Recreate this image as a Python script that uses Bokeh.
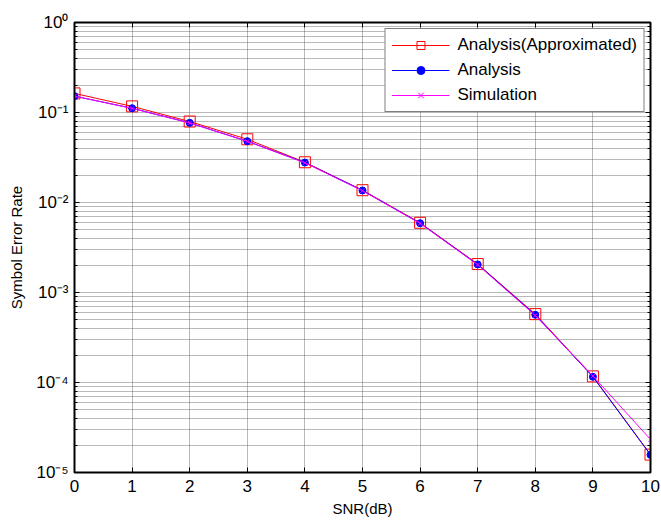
from bokeh.plotting import figure
from bokeh.models import (FixedTicker, LogAxis, LinearAxis, CustomJSTickFormatter,
                          Legend, LegendItem, Range1d, CustomLabelingPolicy)
from bokeh.embed import file_html
from bokeh.resources import INLINE

snr_db = [0, 1, 2, 3, 4, 5, 6, 7, 8, 9, 10]
ser_approx = [0.163, 0.117, 0.0794, 0.0504, 0.0280, 0.0137, 0.00595, 0.00207, 0.000575, 0.000117, 1.58e-5]
ser_analysis = [0.152, 0.1116, 0.0768, 0.0480, 0.0278, 0.0136, 0.00589, 0.00205, 0.000565, 0.0001157, 1.57e-5]
ser_sim = [0.152, 0.1110, 0.0765, 0.0478, 0.0276, 0.0135, 0.00586, 0.00203, 0.000555, 0.000118, 2.33e-5]

y_major = [1e-5, 1e-4, 1e-3, 1e-2, 1e-1, 1]
y_minor = [m * 10.0 ** e for e in range(-5, 0) for m in range(2, 10)]
x_major = list(range(0, 11))

FONT = "Liberation Sans"

p = figure(frame_width=576, frame_height=450, y_axis_type="log",
           x_range=Range1d(0, 10), y_range=Range1d(1e-5, 1),
           output_backend="svg", toolbar_location=None,
           min_border_left=74, min_border_top=22, min_border_bottom=41,
           min_border_right=3)
p.outline_line_color = "black"
p.outline_line_width = 2
p.background_fill_color = "white"
p.border_fill_color = "white"

sup_code = """
const sup = {"-":"\u207b","0":"\u2070","1":"\u00b9","2":"\u00b2","3":"\u00b3","4":"\u2074","5":"\u2075","6":"\u2076","7":"\u2077","8":"\u2078","9":"\u2079"};
const e = Math.round(Math.log10(tick));
return "10" + String(e).split("").map(c => sup[c]).join("");
"""

yticker = FixedTicker(ticks=y_major, minor_ticks=y_minor)
xticker = FixedTicker(ticks=x_major, minor_ticks=[])

def style_axis(ax, show_labels=True):
    ax.axis_line_color = "black"
    ax.axis_line_width = 1
    ax.major_tick_in = 5
    ax.major_tick_out = 0
    ax.minor_tick_in = 3
    ax.minor_tick_out = 0
    ax.major_tick_line_color = "black"
    ax.minor_tick_line_color = "black"
    ax.major_label_text_font = FONT
    ax.major_label_text_color = "black"
    ax.axis_label_text_font = FONT
    ax.axis_label_text_font_style = "normal"
    ax.axis_label_text_color = "black"
    if not show_labels:
        ax.major_label_policy = CustomLabelingPolicy(code="return []")

yax = p.yaxis[0]
yax.ticker = yticker
yax.formatter = CustomJSTickFormatter(code=sup_code)
style_axis(yax)
yax.major_label_text_font_size = "17px"
yax.axis_label = "Symbol Error Rate"
yax.axis_label_text_font_size = "15px"
yax.major_label_standoff = 6
yax.axis_label_standoff = 8

xax = p.xaxis[0]
xax.ticker = xticker
style_axis(xax)
xax.major_label_text_font_size = "17px"
xax.axis_label = "SNR(dB)"
xax.axis_label_text_font_size = "15px"
xax.major_label_standoff = 7
xax.axis_label_standoff = 5

rax = LogAxis(ticker=yticker)
style_axis(rax, show_labels=False)
p.add_layout(rax, "right")
tax = LinearAxis(ticker=xticker)
style_axis(tax, show_labels=False)
p.add_layout(tax, "above")

for g in (p.xgrid[0], p.ygrid[0]):
    g.grid_line_color = "#505050"
    g.grid_line_dash = "1 1"
    g.grid_line_width = 1
    g.grid_line_alpha = 0.8
p.ygrid[0].ticker = yticker
p.xgrid[0].ticker = xticker
p.ygrid[0].minor_grid_line_color = "#505050"
p.ygrid[0].minor_grid_line_dash = "1 1"
p.ygrid[0].minor_grid_line_alpha = 0.8

r1l = p.line(snr_db, ser_approx, line_color="#ff0000", line_width=1)
r1m = p.scatter(snr_db, ser_approx, marker="square", size=11, line_color="#ff0000",
                fill_color=None, line_width=1)
r2l = p.line(snr_db, ser_analysis, line_color="#0000ff", line_width=1)
r2m = p.scatter(snr_db, ser_analysis, marker="circle", size=7, line_color="#0000ff",
                fill_color="#0000ff")
r3l = p.line(snr_db, ser_sim, line_color="#ff00ff", line_width=1)
r3m = p.scatter(snr_db, ser_sim, marker="x", size=6, line_color="#ff00ff", line_width=1)

legend = Legend(items=[
    LegendItem(label="Analysis(Approximated)", renderers=[r1l, r1m]),
    LegendItem(label="Analysis", renderers=[r2l, r2m]),
    LegendItem(label="Simulation", renderers=[r3l, r3m]),
], location="top_right")
legend.label_text_font = FONT
legend.label_text_font_size = "17px"
legend.label_text_color = "black"
legend.border_line_color = "black"
legend.border_line_width = 1
legend.background_fill_color = "white"
legend.background_fill_alpha = 1
legend.glyph_width = 58
legend.glyph_height = 20
legend.label_height = 20
legend.spacing = 5
legend.padding = 6
legend.margin = 6
legend.label_standoff = 8
p.add_layout(legend)

open("out.html", "w").write(file_html(p, INLINE))
